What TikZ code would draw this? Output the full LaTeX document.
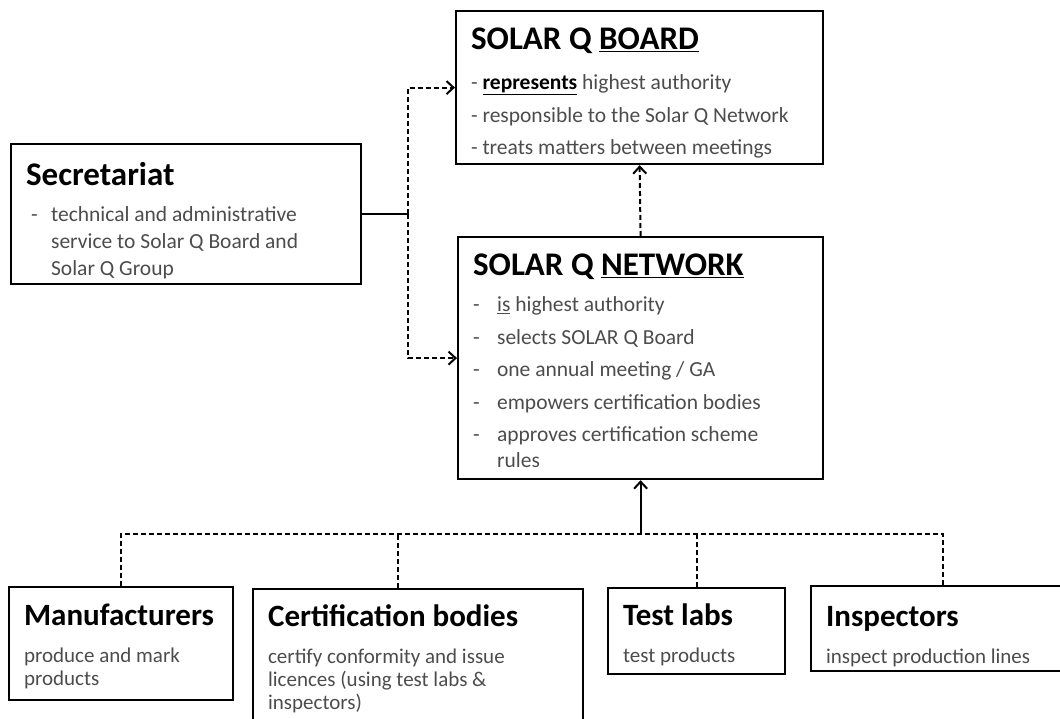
\documentclass[tikz,border=0pt]{standalone}
\usepackage{fontspec}
\setmainfont{Carlito}
\usepackage{tikz}
\usetikzlibrary{arrows,arrows.meta,positioning}

\definecolor{bodygrey}{gray}{0.3}
\newcommand{\blocktext}[3]{\parbox[c][#2pt][t]{#1pt}{#3}}
\newcommand{\bigtitle}{\fontsize{33}{38}\selectfont\bfseries\color{black}}
\newcommand{\smalltitle}{\fontsize{31}{36}\selectfont\bfseries\color{black}}
\newcommand{\dashitem}[2][24pt]{\par\hangindent=#1\hangafter=1\makebox[#1][l]{-}#2}

\begin{document}
\begin{tikzpicture}[x=1pt,y=-1pt,>={Straight Barb[length=7pt,width=13pt]}]
\tikzstyle{block} = [rectangle, draw, line width=2.2pt, anchor=north west,
    inner xsep=15pt, inner ysep=0pt, text=bodygrey]
\tikzstyle{link} = [draw, line width=2pt]
\tikzstyle{dashlink} = [draw, line width=2pt, dash pattern=on 5pt off 3pt]

\useasboundingbox (0,0) rectangle (1060,719);

% Top: board, secretariat, network
\node[block] (board) at (455,10) {\blocktext{337}{153}{\fontsize{21.5}{32.5}\selectfont
    \vspace*{17pt}{\bigtitle SOLAR Q \underline{BOARD}}\\[7.5pt]
    - {\color{black}\underline{\textbf{represents}}} highest authority\\
    - responsible to the Solar Q Network\\
    - treats matters between meetings}};
\node[block] (sec) at (10,143) {\blocktext{320}{140}{\fontsize{21.5}{27}\selectfont
    \vspace*{18pt}{\bigtitle Secretariat}\par\vspace{9pt}
    \hangindent=25pt\hangafter=1\hspace*{5pt}\makebox[20pt][l]{-}technical and administrative\\
    service to Solar Q Board and\\ Solar Q Group}};
\node[block] (net) at (457,236) {\blocktext{335}{242}{\fontsize{21.5}{26}\selectfont
    \vspace*{17pt}{\bigtitle SOLAR Q \underline{NETWORK}}\par
    \setlength{\parskip}{6.5pt}\vspace{3.5pt}
    \dashitem{\underline{is} highest authority}
    \dashitem{selects SOLAR Q Board}
    \dashitem{one annual meeting / GA}
    \dashitem{empowers certification bodies}
    \dashitem{approves certification scheme\\ rules}}};

% Bottom row
\node[block] (manuf) at (8,586) {\blocktext{194}{113}{\fontsize{21}{23}\selectfont
    \vspace*{17pt}{\smalltitle Manufacturers}\\[14pt]
    produce and mark\\ products}};
\node[block] (cert) at (252,588) {\blocktext{300}{200}{\fontsize{21}{23}\selectfont
    \vspace*{16pt}{\smalltitle Certification bodies}\\[14pt]
    certify conformity and issue\\ licences (using test labs \&\\ inspectors)}};
\node[block] (labs) at (607,587) {\blocktext{147}{86}{\fontsize{21}{23}\selectfont
    \vspace*{16pt}{\smalltitle Test labs}\\[14pt]
    test products}};
\node[block] (insp) at (810,585) {\blocktext{234}{85}{\fontsize{21}{23}\selectfont
    \vspace*{20pt}{\smalltitle Inspectors}\\[14pt]
    inspect production lines}};

% Connectors
\coordinate[right=46pt of sec.east] (split);
\coordinate[below=54pt of net.south] (hub);

\draw[link] (sec.east) -- (split);
\draw[dashlink,->] (split) |- (board.west);
\draw[dashlink,->] (split) |- (net.west);
\draw[dashlink,->] (net.north) -- (board.south);
\draw[link,->] (hub) -- (net.south);
\draw[dashlink] (manuf.north) |- (hub) -| (insp.north);
\draw[dashlink] ([xshift=-20pt]cert.north) -- ([xshift=-20pt]cert.north |- hub);
\draw[dashlink] (labs.north) -- (labs.north |- hub);

\end{tikzpicture}
\end{document}
